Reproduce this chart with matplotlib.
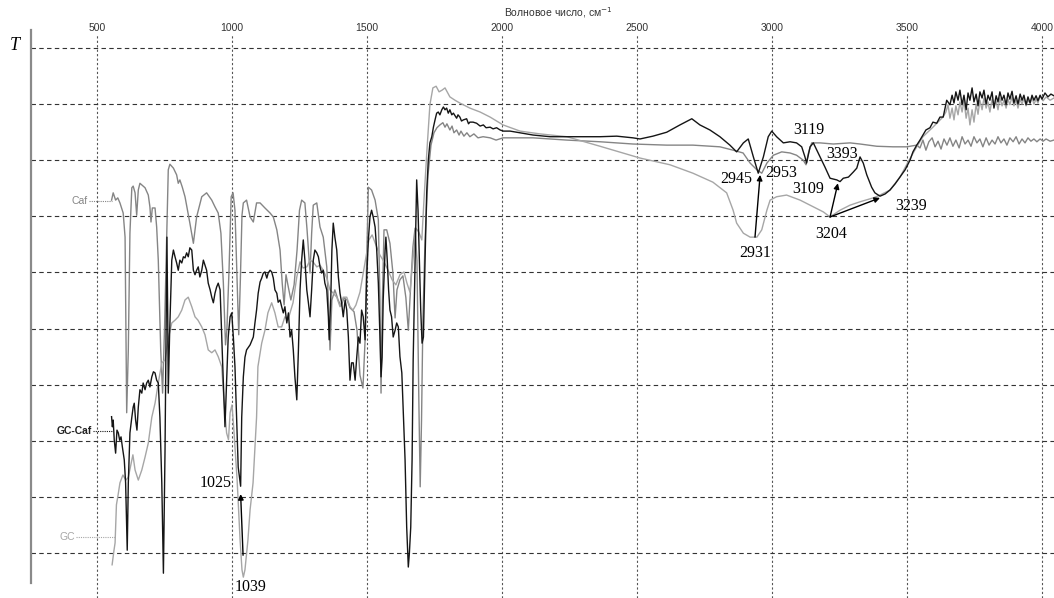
import matplotlib
matplotlib.use("Agg")
import matplotlib.pyplot as plt
from matplotlib.lines import Line2D

# ИК-спектры: Caf, GC-Caf, GC (пропускание, отн. ед., волновое число в см-1)
plt.rcParams['font.family'] = ['Liberation Sans', 'DejaVu Sans']

# GC-Caf (чёрная линия)
gcc_wn = [554, 557, 560, 564, 569, 574, 579, 584, 589, 594, 601, 606, 612, 616, 622, 629, 634, 638, 643, 648,
          653, 659, 666, 671, 678, 684, 690, 696, 703, 709, 715, 721, 727, 733, 740, 746, 752, 756, 759, 762,
          764, 769, 777, 783, 789, 795, 801, 807, 814, 820, 826, 832, 838, 844, 851, 857, 863, 869, 875, 881,
          888, 894, 900, 906, 912, 919, 925, 931, 937, 943, 949, 956, 962, 968, 974, 980, 986, 993, 999, 1005,
          1011, 1017, 1023, 1032, 1036, 1042, 1048, 1054, 1067, 1079, 1085, 1091, 1097, 1104, 1110, 1116, 1122,
          1129, 1134, 1141, 1147, 1153, 1159, 1166, 1171, 1178, 1184, 1190, 1196, 1203, 1209, 1215, 1221, 1227,
          1233, 1240, 1246, 1252, 1258, 1264, 1270, 1277, 1283, 1289, 1295, 1301, 1307, 1314, 1320, 1326, 1332,
          1338, 1344, 1351, 1357, 1360, 1366, 1370, 1375, 1381, 1388, 1394, 1400, 1406, 1412, 1419, 1425, 1431,
          1437, 1443, 1449, 1456, 1462, 1468, 1474, 1480, 1486, 1493, 1499, 1505, 1511, 1517, 1523, 1530, 1536,
          1542, 1548, 1552, 1556, 1560, 1567, 1570, 1575, 1580, 1585, 1591, 1597, 1604, 1610, 1616, 1622, 1629,
          1634, 1641, 1647, 1653, 1657, 1662, 1667, 1671, 1678, 1684, 1689, 1694, 1699, 1704, 1709, 1715, 1721,
          1727, 1733, 1740, 1746, 1752, 1758, 1764, 1770, 1777, 1783, 1789, 1795, 1801, 1807, 1814, 1820, 1832,
          1837, 1844, 1850, 1857, 1869, 1876, 1881, 1893, 1906, 1919, 1931, 1941, 1956, 1967, 1980, 1993, 2005,
          2030, 2054, 2115, 2178, 2240, 2363, 2425, 2485, 2511, 2559, 2610, 2659, 2703, 2733, 2770, 2807, 2844,
          2869, 2894, 2912, 2931, 2949, 2968, 2986, 2999, 3017, 3042, 3067, 3091, 3110, 3122, 3128, 3141, 3153,
          3178, 3196, 3215, 3240, 3252, 3264, 3283, 3301, 3314, 3326, 3338, 3351, 3369, 3381, 3400, 3419, 3437,
          3456, 3474, 3493, 3511, 3522, 3536, 3548, 3559, 3570, 3585, 3596, 3610, 3622, 3634, 3647, 3659,
          3667, 3674, 3681, 3689, 3696, 3704, 3711, 3719, 3726, 3733, 3741, 3748, 3756, 3763, 3770, 3778, 3785,
          3793, 3800, 3807, 3815, 3822, 3830, 3837, 3844, 3852, 3859, 3867, 3874, 3881, 3889, 3896, 3904, 3911,
          3919, 3926, 3933, 3941, 3948, 3956, 3963, 3970, 3978, 3985, 3993, 4000, 4011, 4022, 4033, 4044]
gcc_t = [34.3, 32.5, 33.7, 30.1, 27.8, 31.9, 31.4, 30.1, 30.7, 28.9, 26.6, 22.5, 10.5, 22.5, 31.4, 34.2, 36.0, 36.7,
         33.7, 31.9, 36.0, 39.1, 38.5, 40.3, 39.1, 40.3, 40.8, 39.6, 41.4, 42.3, 42.1, 40.8, 40.3, 34.2, 22.5, 6.4,
         28.4, 49.2, 66.3, 52.1, 38.5, 49.2, 62.2, 64.0, 62.8, 61.7, 60.4, 62.2, 61.7, 62.8, 62.6, 63.5, 62.8, 64.4,
         64.0, 60.4, 59.6, 60.4, 61.0, 59.2, 60.4, 62.2, 61.3, 60.4, 58.1, 56.9, 55.6, 54.6, 56.3, 57.4, 58.1, 56.9,
         48.5, 40.3, 32.5, 40.3, 48.5, 52.1, 52.8, 48.5, 43.2, 34.2, 25.3, 21.9, 34.2, 41.4, 44.9, 46.2, 47.1, 48.5,
         51.0, 53.3, 56.3, 58.3, 59.0, 59.9, 60.1, 59.0, 59.9, 60.4, 60.1, 59.0, 56.9, 56.3, 54.7, 55.1, 53.9, 52.8,
         53.9, 51.0, 52.8, 48.5, 49.7, 46.2, 41.4, 37.3, 46.2, 56.9, 62.2, 65.8, 62.2, 56.9, 54.6, 52.1, 56.9, 62.2,
         64.0, 63.5, 62.8, 61.0, 59.9, 60.4, 58.1, 56.9, 52.1, 48.0, 55.6, 64.0, 68.8, 66.3, 64.0, 59.2, 56.3, 54.6,
         52.1, 55.1, 53.3, 48.5, 40.8, 43.9, 43.9, 40.8, 44.9, 48.5, 47.4, 53.3, 52.1, 48.0, 59.2, 65.8, 69.9, 71.1,
         69.9, 68.1, 64.0, 58.1, 48.5, 41.4, 44.9, 55.1, 64.0, 66.3, 62.2, 56.9, 53.3, 52.1, 48.5, 49.7, 51.0, 50.3,
         45.0, 42.1, 35.5, 26.6, 14.6, 7.5, 10.0, 14.6, 26.6, 44.4, 62.2, 76.5, 71.1, 62.2, 53.3, 47.4, 48.5, 62.2,
         74.2, 80.0, 83.1, 84.2, 85.9, 87.2, 88.4, 88.6, 88.1, 89.0, 89.5, 89.0, 89.3, 88.4, 89.0, 88.1, 88.4, 87.5,
         88.1, 87.7, 87.0, 87.2, 87.4, 86.5, 86.8, 86.8, 86.6, 86.1, 86.3, 85.8, 85.9, 85.6, 85.8, 85.4, 85.2, 85.2,
         85.0, 84.5, 84.2, 84.2, 84.2, 84.3, 84.0, 83.8, 84.3, 85.0, 86.3, 87.4, 86.3, 85.4, 84.2, 82.7, 81.5, 83.1,
         83.8, 80.6, 77.7, 80.6, 84.2, 85.2, 84.2, 83.1, 83.3, 83.1, 82.4, 80.6, 79.5, 82.4, 83.1, 80.6, 78.8, 76.8,
         76.5, 76.2, 76.8, 77.0, 77.9, 78.6, 80.6, 79.5, 77.4, 75.2, 74.2, 73.6, 74.0, 74.7, 75.8, 77.0, 78.3, 80.0,
         81.5, 82.7, 83.6, 84.5, 85.4, 85.8, 86.8, 86.6, 87.7, 87.7, 90.7, 89.9,
         91.6, 90.2, 92.2, 90.7, 92.5, 89.9, 91.6, 89.0, 92.0, 90.7, 92.9, 90.4, 91.8, 89.7, 92.2, 91.1, 92.5, 90.0,
         91.6, 90.7, 92.2, 89.3, 91.5, 90.4, 92.2, 90.7, 91.6, 89.9, 92.0, 90.9, 92.3, 90.2, 91.5, 90.0, 91.8, 90.7,
         91.6, 89.9, 91.3, 90.2, 91.6, 90.7, 91.5, 90.6, 91.6, 90.9, 92.0, 91.3, 91.8, 91.5]

# Caf (серая линия)
caf_wn = [554, 560, 569, 577, 585, 597, 604, 610, 616, 622, 629, 634, 641, 647, 653, 659, 678, 690, 696, 700,
          705, 715, 721, 727, 736, 743, 750, 757, 764, 770, 783, 795, 801, 807, 816, 826, 844, 857, 869, 888,
          906, 925, 937, 949, 959, 968, 976, 981, 989, 997, 1004, 1011, 1019, 1025, 1031, 1037, 1042, 1054, 1067,
          1079, 1091, 1104, 1122, 1141, 1153, 1166, 1178, 1186, 1193, 1200, 1207, 1218, 1230, 1241, 1250, 1258,
          1270, 1278, 1283, 1289, 1295, 1301, 1314, 1326, 1338, 1351, 1357, 1363, 1370, 1381, 1393, 1404, 1415,
          1426, 1437, 1452, 1463, 1474, 1485, 1493, 1498, 1505, 1517, 1530, 1542, 1548, 1552, 1557, 1563, 1573,
          1585, 1596, 1604, 1611, 1622, 1633, 1644, 1653, 1663, 1670, 1678, 1685, 1692, 1697, 1702, 1707, 1715,
          1726, 1737, 1748, 1759, 1770, 1781, 1789, 1796, 1807, 1815, 1822, 1832, 1841, 1848, 1859, 1870, 1881,
          1896, 1911, 1930, 1956, 1978, 2004, 2115, 2240, 2363, 2485, 2610, 2707, 2807, 2856, 2893, 2919, 2944,
          2962, 2981, 3005, 3036, 3067, 3091, 3116, 3126, 3135, 3147, 3178, 3227, 3289, 3326, 3388, 3448, 3499,
          3536, 3548, 3559, 3570, 3581, 3593, 3604, 3615, 3626, 3637, 3648, 3659, 3670, 3681, 3693, 3704, 3715,
          3726, 3737, 3748, 3759, 3770, 3781, 3793, 3804, 3815, 3826, 3837, 3848, 3859, 3870, 3881, 3893, 3904,
          3915, 3926, 3937, 3948, 3959, 3970, 3981, 3993, 4004, 4015, 4030, 4044]
caf_t = [72.9, 74.2, 72.9, 73.3, 72.4, 70.6, 66.3, 35.0, 46.2, 67.0, 75.1, 75.4, 74.2, 70.2, 74.7, 75.9, 75.1, 73.8,
         71.7, 69.0, 71.5, 71.5, 68.1, 62.2, 46.2, 38.5, 49.7, 64.0, 78.3, 79.3, 78.6, 77.4, 75.9, 76.5, 75.2, 73.5,
         68.8, 65.2, 69.9, 73.5, 74.2, 72.9, 71.7, 70.6, 67.0, 58.1, 47.1, 49.7, 60.4, 73.5, 74.2, 71.1, 58.7, 48.9,
         58.7, 70.2, 72.4, 72.9, 69.9, 69.0, 72.4, 72.4, 71.5, 70.6, 69.9, 67.6, 64.0, 58.1, 54.2, 59.6, 57.8, 55.1,
         57.8, 64.0, 71.1, 72.9, 72.4, 67.6, 64.0, 59.9, 67.0, 72.0, 72.4, 68.1, 66.3, 61.0, 55.1, 46.2, 55.1, 56.9,
         55.1, 54.0, 55.5, 55.1, 53.7, 53.0, 49.7, 41.7, 39.4, 48.0, 60.4, 75.2, 74.7, 72.9, 69.4, 55.1, 38.5, 55.1,
         67.6, 67.6, 65.2, 59.9, 51.9, 56.9, 58.7, 59.4, 55.5, 49.7, 58.7, 64.5, 67.9, 62.2, 37.3, 21.8, 33.7, 51.5,
         65.8, 77.4, 82.7, 84.9, 85.8, 86.3, 86.7, 85.9, 86.5, 85.4, 86.1, 84.9, 85.4, 84.5, 85.2, 84.3, 84.9, 84.2,
         84.7, 84.0, 84.2, 84.0, 83.6, 84.0, 84.0, 83.6, 83.3, 82.9, 82.7, 82.7, 82.4, 81.8, 81.3, 79.5, 78.3, 77.7,
         79.5, 80.9, 81.5, 81.3, 80.9, 80.0, 79.2, 81.3, 83.1, 83.1, 82.9, 83.1, 82.9, 82.5, 82.4, 82.4, 82.7,
         82.2, 83.6, 81.8, 83.3, 84.0, 82.4, 83.4, 82.0, 83.8, 82.7, 84.0, 82.5, 83.6, 82.2, 84.2, 82.9, 83.6, 82.5,
         84.2, 83.1, 83.8, 82.4, 84.0, 82.7, 83.6, 82.9, 84.2, 83.1, 83.8, 82.7, 84.0, 83.3, 84.2, 82.9, 83.8, 83.1,
         84.0, 83.4, 83.8, 83.3, 83.8, 83.4, 83.8, 83.4, 83.6]

# GC (светло-серая линия)
gc_wn = [556, 563, 567, 572, 578, 585, 596, 607, 616, 629, 633, 641, 653, 666, 678, 690, 703, 715, 727, 740,
         752, 763, 777, 789, 801, 814, 826, 838, 851, 863, 874, 888, 900, 912, 925, 937, 949, 962, 970, 980,
         987, 993, 1000, 1007, 1019, 1030, 1037, 1042, 1048, 1059, 1067, 1078, 1091, 1096, 1110, 1122, 1133,
         1147, 1159, 1171, 1184, 1196, 1207, 1226, 1240, 1252, 1263, 1277, 1289, 1300, 1314, 1326, 1338, 1351,
         1363, 1375, 1388, 1400, 1412, 1425, 1437, 1448, 1459, 1474, 1485, 1496, 1507, 1519, 1533, 1548, 1563,
         1578, 1593, 1607, 1622, 1637, 1648, 1659, 1670, 1681, 1692, 1703, 1711, 1722, 1733, 1744, 1756, 1767,
         1778, 1789, 1807, 1826, 1844, 1881, 1919, 1956, 2004, 2067, 2141, 2240, 2363, 2511, 2622, 2707, 2781,
         2832, 2856, 2869, 2894, 2919, 2944, 2962, 2981, 2993, 3017, 3054, 3104, 3153, 3190, 3215, 3252, 3289,
         3326, 3375, 3400, 3437, 3474, 3504, 3536, 3559, 3596, 3633,
         3644, 3652, 3659, 3667, 3674, 3681, 3689, 3696, 3704, 3711, 3719, 3726, 3733, 3741, 3748, 3756, 3763,
         3770, 3778, 3785, 3793, 3800, 3807, 3815, 3822, 3830, 3837, 3844, 3852, 3859, 3867, 3874, 3881, 3889,
         3896, 3904, 3911, 3919, 3926, 3933, 3941, 3948, 3956, 3963, 3970, 3978, 3985, 3993, 4004, 4015, 4030, 4044]
gc_t = [7.9, 10.5, 11.8, 18.6, 20.3, 22.5, 23.9, 23.0, 23.5, 26.6, 27.5, 24.8, 23.0, 24.8, 27.1, 29.6, 34.2, 36.7,
        40.3, 43.9, 44.4, 48.0, 51.0, 51.5, 52.1, 53.3, 55.1, 55.6, 53.9, 52.1, 51.5, 50.3, 48.9, 46.2, 45.7, 46.2,
        45.0, 43.2, 37.3, 31.4, 30.2, 35.0, 36.4, 31.9, 23.0, 12.3, 7.0, 5.7, 7.0, 12.3, 17.7, 22.5, 34.2, 43.2,
        47.4, 49.7, 52.8, 54.6, 52.8, 50.3, 50.3, 52.1, 51.5, 54.6, 59.2, 61.9, 60.8, 61.0, 62.2, 61.9, 61.0, 61.3,
        60.4, 59.0, 56.9, 56.3, 55.6, 53.9, 55.6, 55.6, 53.9, 53.3, 54.2, 56.5, 59.6, 62.6, 65.8, 66.7, 64.9, 63.1,
        61.9, 60.4, 58.7, 57.8, 59.6, 60.1, 58.1, 56.5, 62.2, 67.9, 67.2, 65.8, 72.9, 81.8, 89.9, 92.9, 93.2, 92.2,
        92.5, 92.9, 91.3, 90.7, 90.2, 89.3, 88.6, 87.7, 86.3, 85.2, 84.7, 84.2, 82.5, 80.4, 79.2, 77.7, 76.1,
        74.2, 71.1, 68.8, 67.0, 66.3, 66.3, 67.6, 71.1, 72.9, 73.5, 73.8, 72.9, 71.7, 70.8, 69.9, 71.1, 72.0,
        72.6, 73.3, 73.8, 74.7, 77.0, 79.7, 82.4, 84.2, 85.9, 87.7,
        88.6, 89.9, 87.5, 89.3, 87.2, 89.7, 88.1, 90.4, 88.6, 90.7, 87.5, 89.3, 86.3, 89.0, 86.8, 90.0, 88.2,
        90.7, 89.0, 91.1, 89.3, 90.4, 88.6, 90.9, 89.5, 90.6, 89.0, 91.1, 89.7, 90.7, 89.3, 90.9, 89.9, 91.3,
        89.7, 90.7, 89.3, 90.9, 90.0, 91.1, 89.7, 90.7, 90.2, 91.3, 90.0, 90.9, 90.2, 91.5, 90.6, 91.3, 90.7, 91.1]

# подписи пиков: текст, положение (см-1, T)
peak_labels = ["1025", "1039", "2945", "2953", "2931", "3119", "3109", "3393", "3204", "3239"]
peak_x = [941, 1070, 2867, 3033, 2937, 3137, 3133, 3259, 3219, 3515]
peak_y = [22.5, 3.9, 76.7, 77.7, 63.5, 85.4, 74.9, 81.1, 66.9, 71.9]

# стрелки: (откуда) -> (куда)
arrows = [((1041, 9.6), (1032, 20.5)),
          ((2937, 66.3), (2956, 77.4)),
          ((3215, 69.9), (3244, 75.9)),
          ((3215, 69.9), (3400, 73.3))]

C_CAF = "#858585"
C_GC = "#a6a6a6"
C_GCC = "#151515"

fig = plt.figure(figsize=(10.54, 5.98), dpi=100)
ax = fig.add_axes([31 / 1054, 0, 1023 / 1054, 563 / 598])

ax.plot(caf_wn, caf_t, color=C_CAF, lw=1.0)
ax.plot(gc_wn, gc_t, color=C_GC, lw=1.0)
ax.plot(gcc_wn, gcc_t, color=C_GCC, lw=1.0)

ax.set_xlim(255.6, 4044.4)
ax.set_ylim(1.98, 102.33)

# сетка
ax.set_xticks(range(500, 4001, 500))
ax.set_yticks(range(10, 101, 10))
ax.xaxis.tick_top()
ax.tick_params(axis="x", length=0, pad=1.5, labelsize=7.5, labelcolor="#333333")
ax.tick_params(axis="y", length=0, labelleft=False)
ax.grid(axis="x", color="#555555", lw=0.8, linestyle=(0, (2, 2)))
ax.grid(axis="y", color="#333333", lw=0.8, linestyle=(0, (4, 3)))
for s in ax.spines.values():
    s.set_visible(False)

# левая ось
fig.add_artist(Line2D([31 / 1054, 31 / 1054], [1 - 583 / 598, 1 - 30 / 598],
                      transform=fig.transFigure, color="#8a8a8a", lw=1.6))
fig.text(15 / 1054, 1 - 45 / 598, "T", family="Liberation Serif", style="italic",
         fontsize=13, ha="center", va="center")
fig.text(558 / 1054, 1 - 13 / 598, "Волновое число, см$^{-1}$", fontsize=7.5,
         color="#333333", ha="center", va="center")

# подписи спектров с выносками
ax.plot([470, 556], [72.8, 72.8], color=C_CAF, lw=0.8, linestyle=(0, (1, 1)))
ax.text(467, 72.8, "Caf", fontsize=7.5, color=C_CAF, ha="right", va="center")
ax.plot([485, 556], [31.8, 31.8], color=C_GCC, lw=0.8, linestyle=(0, (1, 1)))
ax.text(482, 31.8, "GC-Caf", fontsize=7.5, color="#222222", ha="right", va="center", fontweight="bold")
ax.plot([422, 570], [12.9, 12.9], color=C_GC, lw=0.8, linestyle=(0, (1, 1)))
ax.text(419, 12.9, "GC", fontsize=7.5, color=C_GC, ha="right", va="center")

# подписи пиков
for lab, x, y in zip(peak_labels, peak_x, peak_y):
    ax.text(x, y, lab, family="Liberation Serif", fontsize=11.5, ha="center", va="center")

for start, end in arrows:
    ax.annotate("", xy=end, xytext=start,
                arrowprops=dict(arrowstyle="-|>", color="black", lw=1.0,
                                mutation_scale=8, shrinkA=0, shrinkB=0))

fig.savefig("out.png", dpi=100)
